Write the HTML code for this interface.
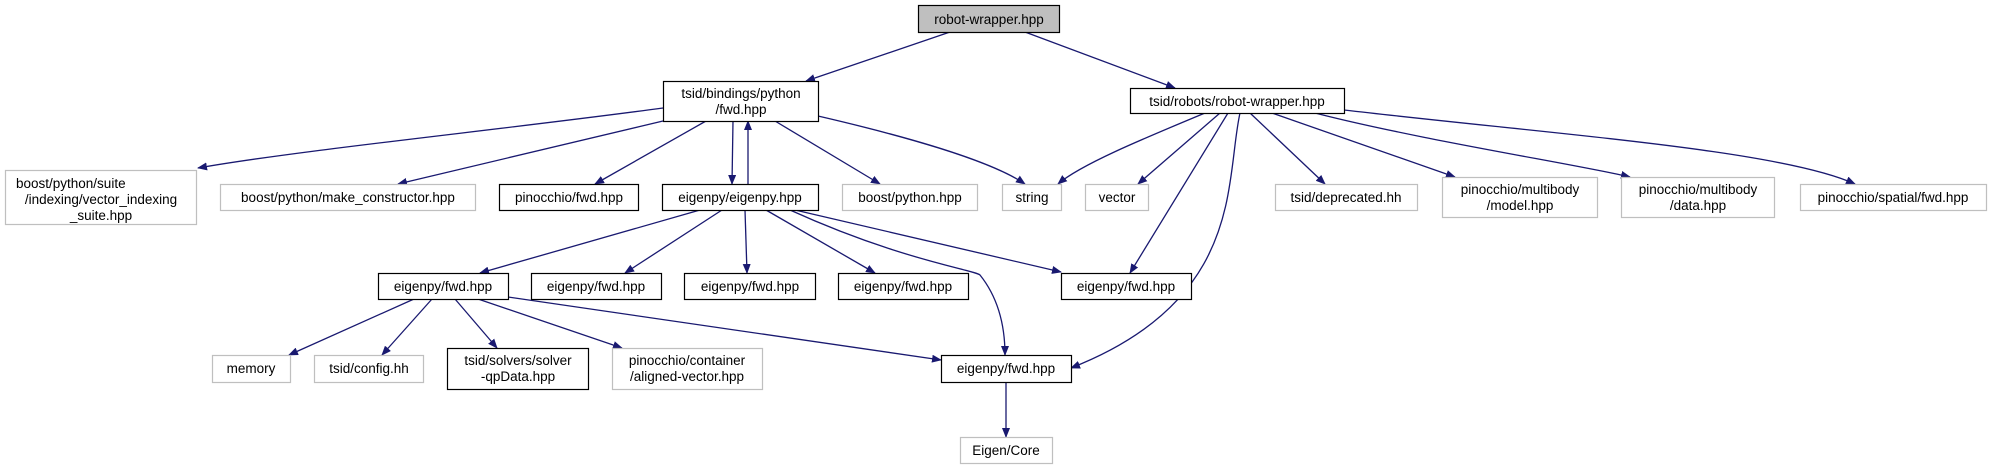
<!DOCTYPE html>
<html><head><meta charset="utf-8"><style>
html,body{margin:0;padding:0;background:#fff;}
svg text{font-family:"Liberation Sans",sans-serif;font-size:13.5px;fill:#000;text-anchor:middle;}
</style></head><body>
<svg width="1991" height="469" viewBox="0 0 1991 469" xmlns="http://www.w3.org/2000/svg">
<defs><marker id="a" markerWidth="10" markerHeight="8" refX="9" refY="4" orient="auto" markerUnits="userSpaceOnUse"><path d="M0,0 L10,4 L0,8 z" fill="#191970"/></marker></defs>
<g fill="none" stroke="#191970" stroke-width="1.3" marker-end="url(#a)">
<path d="M950,32 L806,81"/>
<path d="M1025,32 L1175,88"/>
<path d="M663,108 C500,130 300,150 198,168"/>
<path d="M663,121 L398,184"/>
<path d="M706,121 L595,184"/>
<path d="M733,121 L732,184"/>
<path d="M748,184 L748,121"/>
<path d="M775,121 L880,184"/>
<path d="M818,116 C900,135 990,160 1025,184"/>
<path d="M1205,113 C1140,140 1080,165 1058,184"/>
<path d="M1220,113 L1138,184"/>
<path d="M1228,113 L1130,273"/>
<path d="M1240,113 C1225,180 1245,300 1071,368"/>
<path d="M1250,113 L1325,184"/>
<path d="M1272,113 L1455,177"/>
<path d="M1315,113 C1420,140 1580,165 1630,177"/>
<path d="M1344,110 C1560,135 1780,150 1855,184"/>
<path d="M700,210 L480,273"/>
<path d="M722,210 L625,273"/>
<path d="M745,210 L747,273"/>
<path d="M766,210 L875,273"/>
<path d="M795,210 L1061,272"/>
<path d="M790,210 C900,260 975,270 980,275 C1000,300 1005,330 1005,355"/>
<path d="M414,299 L289,355"/>
<path d="M432,299 L382,355"/>
<path d="M455,299 L497,348"/>
<path d="M478,299 L622,348"/>
<path d="M508,297 L941,360"/>
<path d="M1006,382 L1006,437"/>
</g>
<g stroke-width="1.2">
<rect x="918.5" y="5.5" width="141" height="27" fill="#bfbfbf" stroke="#000"/>
<text x="989" y="24">robot-wrapper.hpp</text>
<rect x="663.5" y="81.5" width="155" height="40" fill="#fff" stroke="#000"/>
<text x="741" y="98">tsid/bindings/python</text><text x="741" y="114">/fwd.hpp</text>
<rect x="1130.5" y="88.5" width="214" height="25" fill="#fff" stroke="#000"/>
<text x="1237" y="106">tsid/robots/robot-wrapper.hpp</text>
<rect x="5.5" y="170.5" width="191" height="54" fill="#fff" stroke="#bfbfbf"/>
<text x="101" y="186" text-anchor="start" x2="0"></text>
<text x="16" y="188" style="text-anchor:start">boost/python/suite</text>
<text x="101" y="204">/indexing/vector_indexing</text>
<text x="101" y="220">_suite.hpp</text>
<rect x="220.5" y="184.5" width="255" height="26" fill="#fff" stroke="#bfbfbf"/><text x="348" y="202">boost/python/make_constructor.hpp</text>
<rect x="499.5" y="184.5" width="139" height="26" fill="#fff" stroke="#000"/><text x="569" y="202">pinocchio/fwd.hpp</text>
<rect x="662.5" y="184.5" width="156" height="26" fill="#fff" stroke="#000"/><text x="740" y="202">eigenpy/eigenpy.hpp</text>
<rect x="842.5" y="184.5" width="135" height="26" fill="#fff" stroke="#bfbfbf"/><text x="910" y="202">boost/python.hpp</text>
<rect x="1002.5" y="184.5" width="59" height="26" fill="#fff" stroke="#bfbfbf"/><text x="1032" y="202">string</text>
<rect x="1085.5" y="184.5" width="63" height="26" fill="#fff" stroke="#bfbfbf"/><text x="1117" y="202">vector</text>
<rect x="1275.5" y="184.5" width="142" height="26" fill="#fff" stroke="#bfbfbf"/><text x="1346" y="202">tsid/deprecated.hh</text>
<rect x="1442.5" y="177.5" width="155" height="40" fill="#fff" stroke="#bfbfbf"/><text x="1520" y="194">pinocchio/multibody</text><text x="1520" y="210">/model.hpp</text>
<rect x="1621.5" y="177.5" width="153" height="40" fill="#fff" stroke="#bfbfbf"/><text x="1698" y="194">pinocchio/multibody</text><text x="1698" y="210">/data.hpp</text>
<rect x="1800.5" y="184.5" width="186" height="26" fill="#fff" stroke="#bfbfbf"/><text x="1893" y="202">pinocchio/spatial/fwd.hpp</text>
<rect x="378.5" y="273.5" width="130" height="26" fill="#fff" stroke="#000"/><text x="443" y="291">eigenpy/fwd.hpp</text>
<rect x="531.5" y="273.5" width="130" height="26" fill="#fff" stroke="#000"/><text x="596" y="291">eigenpy/fwd.hpp</text>
<rect x="684.5" y="273.5" width="131" height="26" fill="#fff" stroke="#000"/><text x="750" y="291">eigenpy/fwd.hpp</text>
<rect x="838.5" y="273.5" width="130" height="26" fill="#fff" stroke="#000"/><text x="903" y="291">eigenpy/fwd.hpp</text>
<rect x="1061.5" y="273.5" width="130" height="26" fill="#fff" stroke="#000"/><text x="1126" y="291">eigenpy/fwd.hpp</text>
<rect x="212.5" y="355.5" width="78" height="27" fill="#fff" stroke="#bfbfbf"/><text x="251" y="373">memory</text>
<rect x="314.5" y="355.5" width="109" height="27" fill="#fff" stroke="#bfbfbf"/><text x="369" y="373">tsid/config.hh</text>
<rect x="447.5" y="348.5" width="141" height="41" fill="#fff" stroke="#000"/><text x="518" y="365">tsid/solvers/solver</text><text x="518" y="381">-qpData.hpp</text>
<rect x="612.5" y="348.5" width="150" height="41" fill="#fff" stroke="#bfbfbf"/><text x="687" y="365">pinocchio/container</text><text x="687" y="381">/aligned-vector.hpp</text>
<rect x="941.5" y="355.5" width="130" height="27" fill="#fff" stroke="#000"/><text x="1006" y="373">eigenpy/fwd.hpp</text>
<rect x="960.5" y="437.5" width="92" height="26" fill="#fff" stroke="#bfbfbf"/><text x="1006" y="455">Eigen/Core</text>
</g>
</svg>
</body></html>
